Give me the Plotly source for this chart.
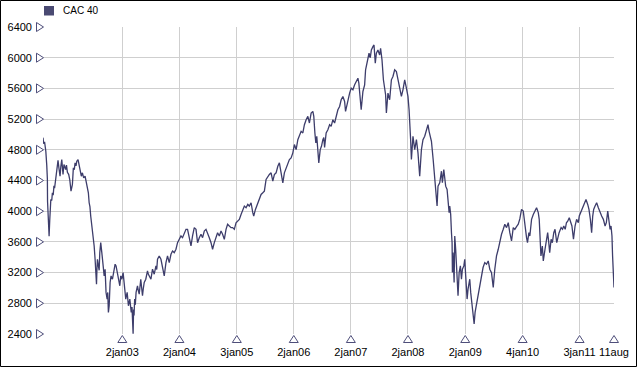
import datetime as dt
import plotly.graph_objects as go

# ---- data ----
dates = [
    "2001-08-13","2001-08-17","2001-08-23","2001-08-31","2001-09-06","2001-09-10","2001-09-11","2001-09-14",
    "2001-09-18","2001-09-21","2001-09-25","2001-09-28","2001-10-02","2001-10-08","2001-10-12","2001-10-17",
    "2001-10-22","2001-10-26","2001-11-02","2001-11-08","2001-11-13","2001-11-17","2001-11-23","2001-11-30",
    "2001-12-05","2001-12-11","2001-12-19","2001-12-25",
    "2002-01-05","2002-01-10","2002-01-16","2002-01-24","2002-01-31","2002-02-08","2002-02-17","2002-02-23",
    "2002-03-01","2002-03-06","2002-03-12","2002-03-17","2002-03-25","2002-04-01","2002-04-09","2002-04-15",
    "2002-04-22","2002-04-30","2002-05-09","2002-05-18","2002-05-24","2002-05-30","2002-06-04","2002-06-09",
    "2002-06-14","2002-06-19","2002-06-25","2002-07-01","2002-07-06","2002-07-12","2002-07-16","2002-07-21",
    "2002-07-24","2002-07-27","2002-08-02","2002-08-07","2002-08-11","2002-08-17","2002-08-24","2002-08-30",
    "2002-09-08","2002-09-14","2002-09-20","2002-09-27","2002-10-01","2002-10-05","2002-10-10","2002-10-16",
    "2002-10-22","2002-10-31","2002-11-09","2002-11-17","2002-11-23","2002-11-30","2002-12-08","2002-12-17",
    "2002-12-23","2002-12-30",
    "2003-01-07","2003-01-16","2003-01-24","2003-02-02","2003-02-10","2003-02-19","2003-02-28","2003-03-05",
    "2003-03-09","2003-03-12","2003-03-15","2003-03-18","2003-03-22","2003-03-26","2003-03-31","2003-04-09",
    "2003-04-15","2003-04-20","2003-04-30","2003-05-06","2003-05-11","2003-05-16","2003-05-22","2003-06-01",
    "2003-06-12","2003-06-17","2003-06-23","2003-07-04","2003-07-14","2003-07-25","2003-08-05","2003-08-10",
    "2003-08-15","2003-08-26","2003-09-06","2003-09-16","2003-09-27","2003-10-08","2003-10-18","2003-10-29",
    "2003-11-09","2003-11-19","2003-11-30","2003-12-11","2003-12-21",
    "2004-01-01","2004-01-12","2004-01-22","2004-02-02","2004-02-13","2004-02-23","2004-03-05","2004-03-16",
    "2004-03-26","2004-04-06","2004-04-17","2004-04-27","2004-05-08","2004-05-19","2004-05-29","2004-06-09",
    "2004-06-20","2004-06-30","2004-07-11","2004-07-22","2004-08-01","2004-08-12","2004-08-23","2004-09-02",
    "2004-09-13","2004-09-24","2004-10-04","2004-10-15","2004-10-26","2004-11-05","2004-11-16","2004-11-27",
    "2004-12-07","2004-12-18","2004-12-29",
    "2005-01-09","2005-01-19","2005-01-30","2005-02-10","2005-02-20","2005-03-03","2005-03-14","2005-03-24",
    "2005-04-04","2005-04-15","2005-04-21","2005-05-02","2005-05-17","2005-05-27","2005-06-07","2005-06-18",
    "2005-06-28","2005-07-09","2005-07-20","2005-07-30","2005-08-10","2005-08-21","2005-08-31","2005-09-11",
    "2005-09-22","2005-10-02","2005-10-13","2005-10-24","2005-11-03","2005-11-14","2005-11-25","2005-12-05",
    "2005-12-16","2005-12-27",
    "2006-01-06","2006-01-17","2006-01-28","2006-02-07","2006-02-18","2006-03-01","2006-03-11","2006-03-22",
    "2006-04-02","2006-04-12","2006-04-23","2006-05-04","2006-05-10","2006-05-17","2006-05-23","2006-05-29",
    "2006-06-05","2006-06-11","2006-06-20","2006-06-28","2006-07-07","2006-07-13","2006-07-18","2006-07-28",
    "2006-08-08","2006-08-19","2006-08-29","2006-09-09","2006-09-20","2006-09-30","2006-10-11","2006-10-22",
    "2006-11-01","2006-11-12","2006-11-23","2006-11-29","2006-12-10","2006-12-25",
    "2007-01-04","2007-01-15","2007-01-26","2007-02-05","2007-02-16","2007-02-22","2007-03-03","2007-03-09",
    "2007-03-20","2007-03-31","2007-04-06","2007-04-17","2007-04-28","2007-05-06","2007-05-13","2007-05-23",
    "2007-05-30","2007-06-07","2007-06-14","2007-06-24","2007-07-05","2007-07-11","2007-07-20","2007-07-29",
    "2007-08-06","2007-08-12","2007-08-17","2007-08-27","2007-09-07","2007-09-18","2007-09-28","2007-10-09",
    "2007-10-20","2007-10-30","2007-11-10","2007-11-21","2007-12-01","2007-12-12","2007-12-23",
    "2008-01-02","2008-01-09","2008-01-15","2008-01-19","2008-01-24","2008-01-30","2008-02-03","2008-02-14",
    "2008-02-25","2008-03-06","2008-03-17","2008-03-28","2008-04-07","2008-04-18","2008-04-29","2008-05-09",
    "2008-05-16","2008-05-24","2008-05-31","2008-06-11","2008-06-21","2008-06-27","2008-07-06","2008-07-12",
    "2008-07-23","2008-08-03","2008-08-09","2008-08-18","2008-08-24","2008-08-30","2008-09-08","2008-09-14",
    "2008-09-21","2008-09-25","2008-10-01","2008-10-06","2008-10-10","2008-10-12","2008-10-16","2008-10-23",
    "2008-10-27","2008-11-02","2008-11-11","2008-11-17","2008-11-24","2008-12-02","2008-12-09","2008-12-15",
    "2008-12-24","2008-12-30",
    "2009-01-05","2009-01-14","2009-01-20","2009-01-31","2009-02-06","2009-02-15","2009-02-23","2009-02-28",
    "2009-03-06","2009-03-15","2009-03-25","2009-04-05","2009-04-16","2009-04-26","2009-05-07","2009-05-18",
    "2009-05-29","2009-06-08","2009-06-19","2009-06-30","2009-07-10","2009-07-21","2009-08-01","2009-08-11",
    "2009-08-22","2009-09-02","2009-09-12","2009-09-23","2009-10-04","2009-10-14","2009-10-25","2009-11-05",
    "2009-11-15","2009-11-26","2009-12-07","2009-12-17","2009-12-28",
    "2010-01-08","2010-01-18","2010-01-29","2010-02-04","2010-02-13","2010-02-19","2010-03-02","2010-03-13",
    "2010-03-23","2010-04-03","2010-04-14","2010-04-20","2010-04-27","2010-05-01","2010-05-10","2010-05-16",
    "2010-05-27","2010-06-07","2010-06-13","2010-06-20","2010-06-26","2010-07-05","2010-07-13","2010-07-22",
    "2010-07-30","2010-08-10","2010-08-17","2010-08-25","2010-09-07","2010-09-16","2010-09-24","2010-10-03",
    "2010-10-11","2010-10-20","2010-10-29","2010-11-06","2010-11-15","2010-11-25","2010-12-05","2010-12-15",
    "2010-12-26",
    "2011-01-01","2011-01-10","2011-01-16","2011-01-27","2011-02-07","2011-02-13","2011-02-24","2011-03-04",
    "2011-03-13","2011-03-21","2011-03-28","2011-04-03","2011-04-12","2011-04-22","2011-05-03","2011-05-14",
    "2011-05-24","2011-06-04","2011-06-15","2011-06-23","2011-07-02","2011-07-10","2011-07-17","2011-07-23",
    "2011-07-29","2011-08-02","2011-08-07","2011-08-11",
]
cac40 = [
    4958,4880,4905,4781,4600,4420,4130,3990,
    3800,3675,3880,4020,4153,4140,4240,4210,
    4330,4300,4413,4500,4560,4663,4560,4456,
    4580,4673,4478,4608,
    4543,4600,4508,4480,4413,4262,4348,4565,
    4540,4630,4590,4652,4673,4586,4521,4456,
    4500,4435,4456,4348,4305,4240,4110,4060,
    3937,3850,3720,3650,3547,3374,3200,3049,
    3250,3374,3287,3230,3461,3590,3461,3330,
    3157,3244,2942,2855,2942,2682,2768,3071,
    3157,3114,3200,3309,3287,3200,3114,3028,
    3157,3114,
    3200,3028,2855,2942,2768,2855,2682,2750,
    2560,2403,2720,2640,2855,2780,2942,3028,
    2960,2919,3114,3000,2898,2990,3071,3114,
    3222,3180,3157,3114,3244,3179,3287,3240,
    3374,3417,3374,3287,3157,3330,3417,3330,
    3439,3482,3461,3504,3590,
    3634,3677,3655,3699,3764,3764,3634,3547,
    3677,3786,3764,3590,3655,3699,3655,3742,
    3764,3699,3655,3590,3504,3590,3677,3720,
    3677,3742,3699,3634,3764,3829,3807,3786,
    3786,3764,3850,
    3872,3894,3958,4023,4067,4045,4088,4067,
    4110,3981,3937,4023,4110,4175,4218,4240,
    4262,4413,4456,4478,4500,4391,4478,4500,
    4586,4630,4500,4370,4500,4565,4608,4673,
    4695,4760,
    4868,4803,4932,4976,5041,5019,5127,5192,
    5235,5149,5279,5300,5235,5019,4890,4976,
    4803,4630,4803,4846,4932,4960,4830,5019,
    5062,5127,5106,5192,5149,5235,5322,5365,
    5452,5495,5430,5300,5409,5539,
    5604,5582,5647,5690,5733,5669,5430,5322,
    5560,5647,5842,5950,6058,6000,6101,6144,
    6166,5928,6058,6101,6036,6123,5971,5712,
    5625,5517,5279,5539,5452,5712,5755,5842,
    5820,5712,5604,5495,5582,5712,5604,
    5495,5322,5149,4932,4673,4932,4976,4803,
    4932,4760,4456,4803,4932,4976,5062,5127,
    5041,4976,4911,4673,4456,4305,4067,4326,
    4370,4521,4370,4543,4413,4326,4283,4153,
    3981,4067,3958,3720,3590,3200,3461,3071,
    3677,3504,3157,2898,3200,3287,3114,3244,
    3287,3374,
    3157,2855,2984,3114,2942,2768,2682,2530,
    2682,2790,2898,3028,3157,3266,3330,3309,
    3352,3244,3200,3006,3244,3417,3504,3612,
    3699,3764,3829,3786,3850,3720,3612,3786,
    3764,3800,3830,3900,4023,
    4002,3807,3656,3590,3720,3677,3894,3958,
    4002,4045,3981,3894,3590,3417,3547,3352,
    3504,3634,3720,3590,3461,3634,3590,3720,
    3764,3590,3677,3720,3786,3764,3807,3764,
    3850,3872,3915,3850,3807,3634,3807,3894,
    3850,
    3937,3981,4023,4067,4110,4153,4088,4023,
    3894,3720,3937,4023,4067,4110,4045,3981,
    3937,3894,3807,3850,4002,3872,3764,3807,
    3677,3417,3200,3006,
]
series_name = "CAC 40"

y_ticks = [2400, 2800, 3200, 3600, 4000, 4400, 4800, 5200, 5600, 6000, 6400]
x_tick_dates = ["2003-01-02", "2004-01-02", "2005-01-03", "2006-01-02", "2007-01-02",
                "2008-01-02", "2009-01-02", "2010-01-04", "2011-01-03", "2011-08-11"]
x_tick_labels = ["2jan03", "2jan04", "3jan05", "2jan06", "2jan07",
                 "2jan08", "2jan09", "4jan10", "3jan11", "11aug"]

# ---- layout geometry ----
W, H = 637, 367
L, R, T, B = 43, 23, 27, 33
PW, PH = W - L - R, H - T - B

LINE = "#3d3d6b"
TRI = "#4e4e7a"
GRID = "#cfcfcf"
FONT = "Liberation Sans, Arial, sans-serif"

x_start, x_end = dates[0], dates[-1]
y_min, y_max = y_ticks[0], y_ticks[-1]

fig = go.Figure()

fig.add_trace(go.Scatter(
    x=dates, y=cac40, mode="lines", name=series_name,
    line=dict(color=LINE, width=1.3), showlegend=False,
))

def px_x(p):
    return (p - L) / PW

def px_y(p):
    return (T + PH - p) / PH

def date_frac(d):
    t0 = dt.date.fromisoformat(x_start)
    t1 = dt.date.fromisoformat(x_end)
    return (dt.date.fromisoformat(d) - t0).days / (t1 - t0).days

shapes = [
    # outer frame
    dict(type="rect", xref="paper", yref="paper",
         x0=px_x(0.5), x1=px_x(W - 0.5), y0=px_y(H - 0.5), y1=px_y(0.5),
         line=dict(color="black", width=1), fillcolor="rgba(0,0,0,0)", layer="above"),
    # legend swatch
    dict(type="rect", xref="paper", yref="paper",
         x0=px_x(44), x1=px_x(54), y0=px_y(15.5), y1=px_y(6),
         line=dict(width=0), fillcolor="#4a4a72", layer="above"),
]
# tick triangles on the y axis
for v in y_ticks:
    shapes.append(dict(
        type="path", xref="paper", xanchor=0, xsizemode="pixel",
        yref="paper", yanchor=(v - y_min) / (y_max - y_min), ysizemode="pixel",
        path="M -6.5,-4.5 L 0.5,0 L -6.5,4.5 Z",
        line=dict(color=TRI, width=1), fillcolor="white", layer="above",
    ))
# tick triangles on the x axis
for d in x_tick_dates:
    shapes.append(dict(
        type="path", xref="paper", xanchor=date_frac(d), xsizemode="pixel",
        yref="paper", yanchor=0, ysizemode="pixel",
        path="M -4.5,-8.5 L 0,-1.5 L 4.5,-8.5 Z",
        line=dict(color=TRI, width=1), fillcolor="white", layer="above",
    ))

fig.update_layout(
    width=W, height=H,
    margin=dict(l=L, r=R, t=T, b=B, pad=0),
    paper_bgcolor="white", plot_bgcolor="white",
    font=dict(family=FONT, size=11, color="#000000"),
    showlegend=False,
    xaxis=dict(
        type="date", range=[x_start, x_end], automargin=False,
        tickmode="array", tickvals=x_tick_dates, ticktext=x_tick_labels,
        showgrid=True, gridcolor=GRID, gridwidth=1,
        showline=False, zeroline=False, ticks="",
        ticklabelstandoff=10, tickfont=dict(size=11, family=FONT),
    ),
    yaxis=dict(
        range=[y_min, y_max], tickmode="array", tickvals=y_ticks, automargin=False,
        showgrid=True, gridcolor=GRID, gridwidth=1,
        showline=False, zeroline=False, ticks="",
        ticklabelstandoff=10, tickfont=dict(size=11, family=FONT),
    ),
    shapes=shapes,
    annotations=[
        dict(text=series_name, xref="paper", yref="paper", x=px_x(61), y=px_y(11),
             xanchor="left", yanchor="middle", showarrow=False,
             font=dict(size=10, family=FONT, color="#000000")),
    ],
)

fig.write_html("out.html")
